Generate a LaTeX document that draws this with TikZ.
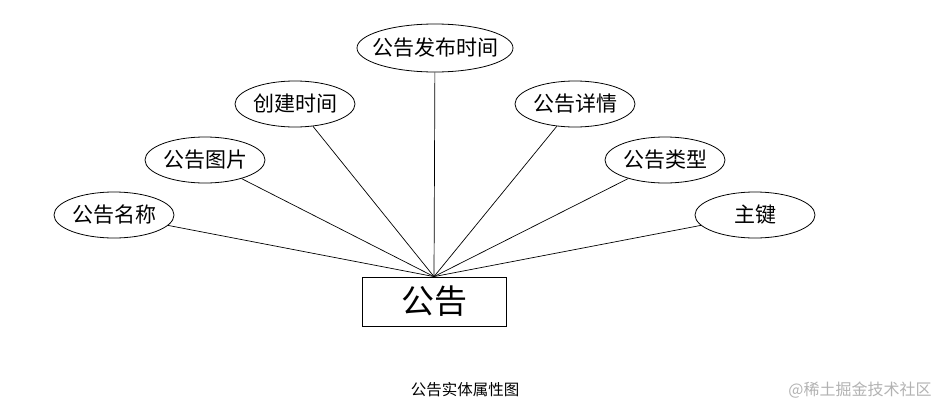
\documentclass[tikz,border=0pt]{standalone}
\usepackage{fontspec}
\setmainfont{Noto Sans CJK SC}
\usetikzlibrary{shapes.geometric}
\begin{document}
\begin{tikzpicture}[x=1pt,y=-1pt,
  attr/.style={ellipse,draw,line width=0.8pt,minimum width=120pt,minimum height=46pt,inner sep=0pt,font=\fontsize{21}{23}\selectfont},
  link/.style={draw,line width=0.7pt}]
\useasboundingbox (0,0) rectangle (946,407);
\node[draw,line width=0.8pt,minimum width=144pt,minimum height=49pt,inner sep=0pt,font=\fontsize{33}{35}\selectfont] (e) at (434,301.5) {公告};
\coordinate (c) at (e.north);
\node[attr,inner xsep=-12pt,minimum width=156pt,minimum height=48pt] (a4) at (435,48) {公告发布时间};
\node[attr] (a1) at (114,215) {公告名称};
\node[attr] (a2) at (205,160) {公告图片};
\node[attr] (a3) at (295,104) {创建时间};
\node[attr] (a5) at (575,104) {公告详情};
\node[attr] (a6) at (665,160) {公告类型};
\node[attr] (a7) at (755,215) {主键};
\foreach \n in {a1,a2,a3,a4,a5,a6,a7} \draw[link] (\n) -- (c);
\node[font=\fontsize{15.5}{17}\selectfont] (cap) at (465,390) {公告实体属性图};
\node[font=\fontsize{16}{18}\selectfont,text=black!30] (wm) at (860,390) {@稀土掘金技术社区};
\end{tikzpicture}
\end{document}
